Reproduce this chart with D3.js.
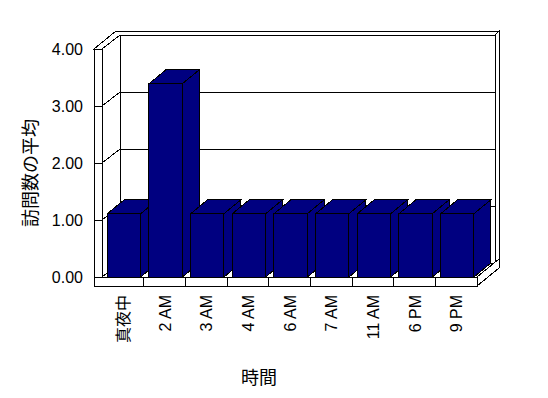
<!DOCTYPE html>
<html><head><meta charset="utf-8">
<script src="https://cdn.jsdelivr.net/npm/d3@7"></script>
<style>
body{margin:0;background:#fff;}
svg{display:block;}
text{font-family:"Liberation Sans",Arial,"Noto Sans CJK JP",sans-serif;fill:#000;}
</style></head><body>
<script>
const categories = ["真夜中","2 AM","3 AM","4 AM","6 AM","7 AM","11 AM","6 PM","9 PM"];
const values = [1.11,3.39,1.11,1.11,1.11,1.11,1.11,1.11,1.11];
const yTicks = [0,1,2,3,4];
const yTickLabels = ["0.00","1.00","2.00","3.00","4.00"];
const yTitle = "訪問数の平均";
const xTitle = "時間";

const W=548,H=398;
const svg=d3.select("body").append("svg").attr("width",W).attr("height",H);
const g=svg.append("g").attr("shape-rendering","crispEdges");

// geometry
const x0=102, x1=477, left=94, floorB=9;
const D=[18,-14], T=[4,-4], BD=[17,-14];
const y=d3.scaleLinear().domain([0,4]).range([277,49]);
const x=d3.scaleBand().domain(categories).range([x0,x1]).paddingInner(0).paddingOuter(0);
const yb=v=>y(v)+D[1];
const pt=p=>p.map(q=>q.join(",")).join(" ");
const poly=(pts,fill)=>g.append("polygon").attr("points",pt(pts)).attr("fill",fill).attr("stroke","#000").attr("stroke-width",1);
const line=(pts)=>g.append("polyline").attr("points",pt(pts)).attr("fill","none").attr("stroke","#000").attr("stroke-width",1);

const bx0=x0+D[0], bx1=x1+D[0];
// back wall front face
poly([[bx0,yb(4)],[bx1,yb(4)],[bx1,yb(0)],[bx0,yb(0)]],"#fff");
// back wall right side
poly([[bx1,yb(4)],[bx1+T[0],yb(4)+T[1]],[bx1+T[0],yb(0)+T[1]],[bx1,yb(0)]],"#fff");
// back gridlines
yTicks.filter(v=>v>0&&v<4).forEach(v=>line([[bx0,yb(v)],[bx1,yb(v)]]));
// floor top
poly([[x0,y(0)],[x1,y(0)],[bx1,yb(0)],[bx0,yb(0)]],"#fff");
// floor front face
poly([[left,y(0)],[x1,y(0)],[x1,y(0)+floorB],[left,y(0)+floorB]],"#fff");
// floor right side
poly([[x1,y(0)],[x1+D[0]+T[0],y(0)+D[1]+T[1]],[x1+D[0]+T[0],y(0)+D[1]+T[1]+floorB],[x1,y(0)+floorB]],"#fff");
// floor dividers
categories.slice(1).forEach(c=>line([[x(c),y(0)],[x(c),y(0)+floorB]]));
// left wall inner face
poly([[x0,y(0)],[bx0,yb(0)],[bx0,yb(4)],[x0,y(4)]],"#fff");
// left wall front face
poly([[left,y(4)],[x0,y(4)],[x0,y(0)],[left,y(0)]],"#fff");
// top of walls
poly([[left,y(4)],[left+D[0]+T[0],y(4)+D[1]+T[1]],[bx1+T[0],yb(4)+T[1]],[bx1,yb(4)],[bx0,yb(4)],[x0,y(4)]],"#fff");
// left wall gridlines
yTicks.filter(v=>v>0&&v<4).forEach(v=>line([[left,y(v)],[x0,y(v)],[bx0,yb(v)]]));

// bars
const bw=x.bandwidth()*0.8, off=x.bandwidth()*0.127;
categories.forEach((c,i)=>{
  const v=values[i];
  const fx0=x(c)+off, fx1=fx0+bw, ft=y(v), fb=y(0);
  poly([[fx0,ft],[fx0+BD[0],ft+BD[1]],[fx1+BD[0],ft+BD[1]],[fx1,ft]],"#000080");
  poly([[fx1,ft],[fx1+BD[0],ft+BD[1]],[fx1+BD[0],fb+BD[1]],[fx1,fb]],"#000080");
  poly([[fx0,ft],[fx1,ft],[fx1,fb],[fx0,fb]],"#000080");
});

// y tick labels
yTicks.forEach((v,i)=>{
  svg.append("text").attr("x",83).attr("y",y(v)).attr("dy","0.36em")
    .attr("text-anchor","end").attr("font-size",16).text(yTickLabels[i]);
});
// x tick labels
categories.forEach(c=>{
  const cx=x(c)+x.bandwidth()/2;
  svg.append("text").attr("transform",`translate(${cx+6},295) rotate(-90)`)
    .attr("text-anchor","end").attr("font-size",16).text(c);
});
// titles
svg.append("text").attr("transform","translate(37,173) rotate(-90)")
  .attr("text-anchor","middle").attr("font-size",18).text(yTitle);
svg.append("text").attr("x",259).attr("y",384)
  .attr("text-anchor","middle").attr("font-size",18).text(xTitle);
</script>
</body></html>
